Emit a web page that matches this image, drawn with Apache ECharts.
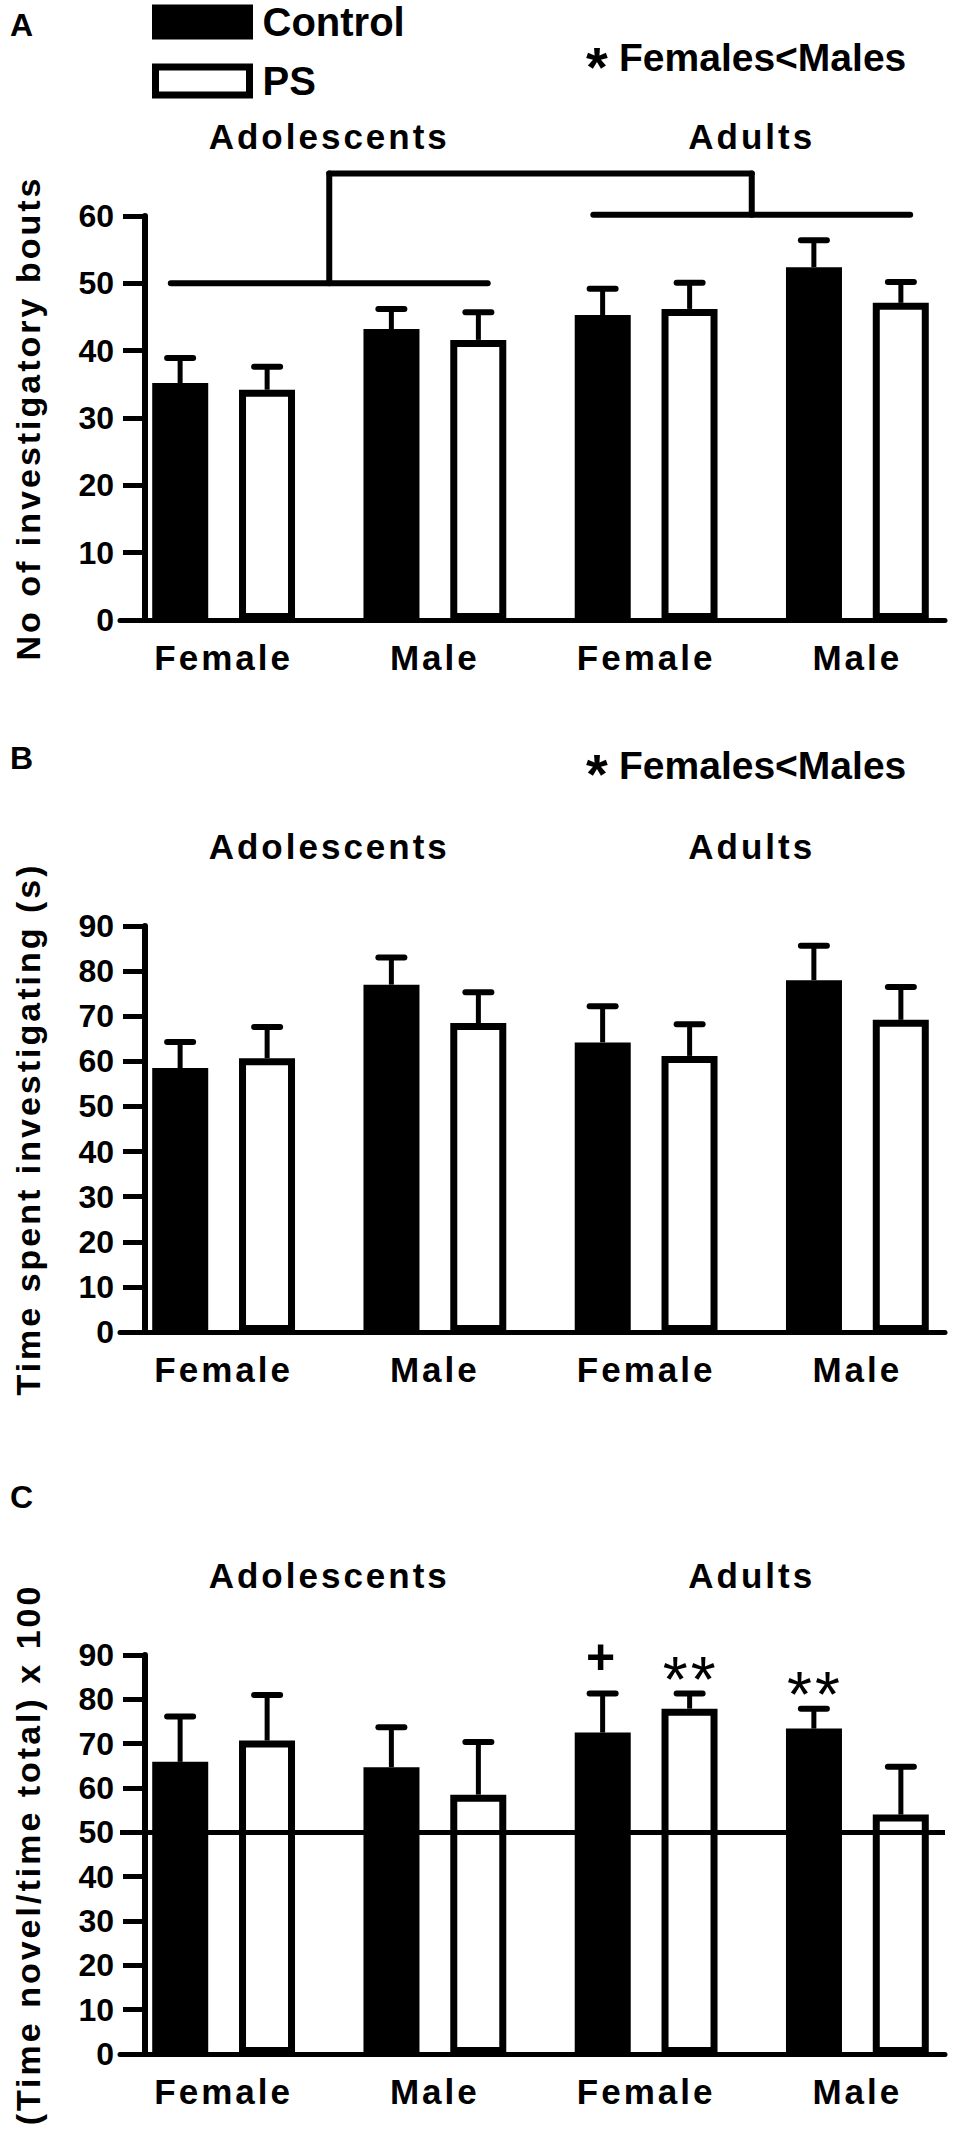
<!DOCTYPE html>
<html>
<head>
<meta charset="utf-8">
<script src="https://cdn.jsdelivr.net/npm/echarts@6/dist/echarts.min.js"></script>
<style>
  html, body { margin: 0; padding: 0; background: #fff; }
  #chart { width: 970px; height: 2147px; }
  /* the figure's labels are set with wide letter spacing */
  #chart text[style*="Arial"], #chart text[font-family*="Arial"] { letter-spacing: 3px; }
</style>
</head>
<body>
<div id="chart"></div>
<script>
var groups = ['Adolescents', 'Adults'];
var sexes = ['Female', 'Male', 'Female', 'Male'];
var yTitles = ['No of investigatory bouts', 'Time spent investigating (s)', '(Time novel/time total) x 100'];

// A - number of investigatory bouts (mean and mean + SEM)
var boutsControl = [35.2, 43.2, 45.3, 52.4];
var boutsControlUpper = [38.9, 46.2, 49.2, 56.4];
var boutsPS = [34.2, 41.6, 46.2, 47.1];
var boutsPSUpper = [37.6, 45.7, 50.1, 50.2];
// [first category, last category, level] of the age brackets, then the top link
var ageBracketA = [[0, 1, 50], [2, 3, 60.2]];
var ageBracketTopA = 66.3;

// B - time spent investigating
var timeControl = [58.5, 77.0, 64.2, 78.0];
var timeControlUpper = [64.3, 83.0, 72.2, 85.6];
var timePS = [60.7, 68.5, 61.2, 69.2];
var timePSUpper = [67.6, 75.3, 68.2, 76.5];

// C - novelty preference ratio
var ratioControl = [65.9, 64.7, 72.5, 73.4];
var ratioControlUpper = [76.1, 73.7, 81.3, 77.9];
var ratioPS = [70.7, 58.5, 77.9, 54.0];
var ratioPSUpper = [81.0, 70.4, 81.3, 64.8];
var ratioChance = [50];
var ratioMarksControl = ['', '', '+', '**'];
var ratioMarksPS = ['', '', '**', ''];

var PLAIN = '"Liberation Sans", sans-serif';
var SPACED = 'Arial, "Liberation Sans", sans-serif';
var BAR_W = 56;
var BAR_SHIFT = 43.5;

var panels = [
  { top: 216, height: 404, max: 60, control: boutsControl, controlUp: boutsControlUpper, ps: boutsPS, psUp: boutsPSUpper },
  { top: 926, height: 406, max: 90, control: timeControl, controlUp: timeControlUpper, ps: timePS, psUp: timePSUpper },
  { top: 1655, height: 399, max: 90, control: ratioControl, controlUp: ratioControlUpper, ps: ratioPS, psUp: ratioPSUpper,
    marksControl: ratioMarksControl, marksPS: ratioMarksPS }
];

function errorBars(side, marks) {
  return function (params, api) {
    var top = api.coord([api.value(0), api.value(1)]);
    var cap = api.coord([api.value(0), api.value(2)]);
    var x = top[0] + side * BAR_SHIFT;
    var children = [
      { type: 'line', shape: { x1: x, y1: top[1], x2: x, y2: cap[1] }, style: { stroke: '#000', lineWidth: 5 } },
      { type: 'line', shape: { x1: x - 13, y1: cap[1], x2: x + 13, y2: cap[1] }, style: { stroke: '#000', lineWidth: 6, lineCap: 'round' } }
    ];
    var mark = marks ? marks[params.dataIndex] : '';
    if (mark) {
      var plus = mark === '+';
      children.push({
        type: 'text', x: x + (plus ? -2 : 1), y: cap[1] - (plus ? 37 : 14),
        style: {
          text: mark, fill: '#000', fontSize: plus ? 50 : 64, fontWeight: plus ? 'bold' : 'normal',
          fontFamily: plus ? PLAIN : SPACED,
          align: 'center', verticalAlign: 'middle', textAlign: 'center', textVerticalAlign: 'middle'
        }
      });
    }
    return { type: 'group', children: children };
  };
}

function bracketItem(params, api) {
  var s = api.coord([api.value(0), api.value(2)]);
  var e = api.coord([api.value(1), api.value(2)]);
  var band = api.size([1, 0])[0];
  var mid = (s[0] + e[0]) / 2;
  var topY = api.coord([0, ageBracketTopA])[1];
  var st = { stroke: '#000', lineWidth: 6, lineCap: 'round' };
  var children = [
    { type: 'line', shape: { x1: s[0] - band * 0.25, y1: s[1], x2: e[0] + band * 0.25, y2: s[1] }, style: st },
    { type: 'line', shape: { x1: mid, y1: s[1], x2: mid, y2: topY }, style: st }
  ];
  if (params.dataIndex === 0) {
    var other = ageBracketA[1];
    var m2 = (api.coord([other[0], 0])[0] + api.coord([other[1], 0])[0]) / 2;
    children.push({ type: 'line', shape: { x1: mid, y1: topY, x2: m2, y2: topY }, style: st });
  }
  return { type: 'group', children: children };
}

var grid = [], xAxis = [], yAxis = [], series = [];
panels.forEach(function (p, k) {
  var dg = 2 * k, fg = 2 * k + 1;
  grid.push({ left: 118, width: 845, top: p.top, height: p.height });
  grid.push({ left: 120, width: 825, top: p.top, height: p.height });

  var xBottom = xAxis.length;
  xAxis.push({
    gridIndex: dg, type: 'category', data: sexes, position: 'bottom',
    axisLine: { show: false }, axisTick: { show: false },
    axisLabel: { interval: 0, margin: 20, color: '#000', fontSize: 35, fontWeight: 'bold', fontFamily: SPACED }
  });
  xAxis.push({
    gridIndex: dg, type: 'category', data: groups, position: 'top',
    axisLine: { show: false }, axisTick: { show: false },
    axisLabel: { interval: 0, margin: 62, color: '#000', fontSize: 35, fontWeight: 'bold', fontFamily: SPACED }
  });
  var xFrame = xAxis.length;
  xAxis.push({
    gridIndex: fg, type: 'value', min: 0, max: 1,
    axisLine: { show: true, onZero: false, lineStyle: { color: '#000', width: 5 } },
    axisTick: { show: false }, axisLabel: { show: false }, splitLine: { show: false }
  });

  yAxis.push({ gridIndex: dg, type: 'value', min: 0, max: p.max, show: false });
  yAxis.push({
    gridIndex: fg, type: 'value', min: 0, max: p.max, interval: 10, offset: -25,
    axisLine: { show: true, lineStyle: { color: '#000', width: 6 } },
    axisTick: { show: true, length: 22, lineStyle: { color: '#000', width: 5 } },
    axisLabel: { margin: 31, color: '#000', fontSize: 32, fontWeight: 'bold', fontFamily: PLAIN },
    splitLine: { show: false },
    name: yTitles[k], nameLocation: 'middle', nameGap: 100,
    nameTextStyle: { color: '#000', fontSize: 34, fontWeight: 'bold', fontFamily: SPACED }
  });

  series.push({
    name: 'Control', type: 'bar', xAxisIndex: xBottom, yAxisIndex: dg, data: p.control,
    barWidth: BAR_W, barGap: '55%',
    itemStyle: { color: '#000', borderColor: '#000', borderWidth: 7 }
  });
  series.push({
    name: 'PS', type: 'bar', xAxisIndex: xBottom, yAxisIndex: dg, data: p.ps,
    barWidth: BAR_W, barGap: '55%',
    itemStyle: { color: '#fff', borderColor: '#000', borderWidth: 7 }
  });
  series.push({
    type: 'custom', xAxisIndex: xBottom, yAxisIndex: dg, encode: { x: 0, y: [1, 2] }, silent: true,
    data: p.control.map(function (v, i) { return [i, v, p.controlUp[i]]; }),
    renderItem: errorBars(-1, p.marksControl)
  });
  series.push({
    type: 'custom', xAxisIndex: xBottom, yAxisIndex: dg, encode: { x: 0, y: [1, 2] }, silent: true,
    data: p.ps.map(function (v, i) { return [i, v, p.psUp[i]]; }),
    renderItem: errorBars(1, p.marksPS)
  });

  if (k === 0) {
    series.push({
      type: 'custom', xAxisIndex: xBottom, yAxisIndex: dg, encode: { x: [0, 1], y: 2 }, silent: true,
      data: ageBracketA, renderItem: bracketItem
    });
  }
  if (k === 2) {
    series.push({
      type: 'line', xAxisIndex: xFrame, yAxisIndex: fg, data: [], silent: true,
      markLine: {
        silent: true, symbol: ['none', 'none'], label: { show: false },
        lineStyle: { color: '#000', width: 5, type: 'solid' },
        data: ratioChance.map(function (v) { return { yAxis: v }; })
      }
    });
  }
});

function label(text, x, y, size, extra) {
  var st = {
    text: text, fill: '#000', fontSize: size, fontWeight: 'bold', fontFamily: PLAIN,
    align: 'left', verticalAlign: 'middle', textAlign: 'left', textVerticalAlign: 'middle'
  };
  for (var key in extra) st[key] = extra[key];
  return { type: 'text', x: x, y: y, style: st };
}

var chart = echarts.init(document.getElementById('chart'), null, { renderer: 'svg' });
chart.setOption({
  animation: false,
  backgroundColor: '#fff',
  legend: {
    orient: 'vertical', left: 152, top: 2, padding: 0, itemGap: 19,
    itemWidth: 94, itemHeight: 28, icon: 'rect', selectedMode: false,
    textStyle: { color: '#000', fontSize: 40, fontWeight: 'bold', fontFamily: PLAIN, padding: [0, 0, 0, 8] },
    data: [
      { name: 'Control', itemStyle: { color: '#000', borderColor: '#000', borderWidth: 7 } },
      { name: 'PS', itemStyle: { color: '#fff', borderColor: '#000', borderWidth: 7 } }
    ]
  },
  graphic: [
    label('A', 10, 25, 32),
    label('B', 10, 758, 32),
    label('C', 10, 1497, 32),
    label('*', 597, 66, 56, { align: 'center', textAlign: 'center' }),
    label('Females<Males', 619, 57, 39),
    label('*', 597, 773, 56, { align: 'center', textAlign: 'center' }),
    label('Females<Males', 619, 765, 39)
  ],
  grid: grid,
  xAxis: xAxis,
  yAxis: yAxis,
  series: series
});
window.addEventListener('resize', function () { chart.resize(); });
</script>
</body>
</html>
